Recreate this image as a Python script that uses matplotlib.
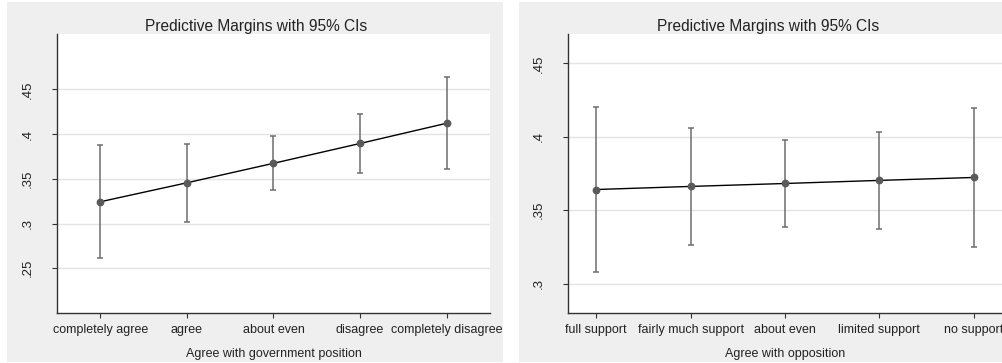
import numpy as np
import matplotlib.pyplot as plt
from matplotlib.patches import Rectangle

plt.rcParams['font.family'] = ['Liberation Sans', 'DejaVu Sans']

# Left panel: agree with government position
gov_labels = ['completely agree', 'agree', 'about even', 'disagree', 'completely disagree']
gov_margin = [0.3244, 0.3456, 0.3674, 0.3896, 0.4122]
gov_lo = [0.2619, 0.3019, 0.3370, 0.3563, 0.3608]
gov_hi = [0.3874, 0.3889, 0.3974, 0.4226, 0.4637]
gov_yticks = [0.25, 0.3, 0.35, 0.4, 0.45]
gov_yticklabels = ['.25', '.3', '.35', '.4', '.45']

# Right panel: agree with opposition
opp_labels = ['full support', 'fairly much support', 'about even', 'limited support', 'no support']
opp_margin = [0.3641, 0.3662, 0.3682, 0.3703, 0.3723]
opp_lo = [0.3080, 0.3266, 0.3386, 0.3374, 0.3252]
opp_hi = [0.4205, 0.4063, 0.3981, 0.4033, 0.4194]
opp_yticks = [0.3, 0.35, 0.4, 0.45]
opp_yticklabels = ['.3', '.35', '.4', '.45']

W, H = 1003, 363
fig = plt.figure(figsize=(W / 100, H / 100), dpi=100)
fig.patch.set_facecolor('white')

BG = '#efefef'


def px_rect(x0, y0, x1, y1):
    # pixel box (top-left origin) -> figure fraction rect
    return [x0 / W, 1 - y1 / H, (x1 - x0) / W, (y1 - y0) / H]


def panel(bg_box, ax_box, labels, m, lo, hi, yticks, yticklabels, ylim, xlim, xlabel, title_x):
    x0, y0, x1, y1 = bg_box
    fig.patches.append(Rectangle((x0 / W, 1 - y1 / H), (x1 - x0) / W, (y1 - y0) / H,
                                 transform=fig.transFigure, facecolor=BG, edgecolor='none', zorder=-5))
    ax = fig.add_axes(px_rect(*ax_box), zorder=2)
    ax.set_facecolor('white')
    x = np.arange(1, len(labels) + 1)
    m = np.array(m)
    yerr = [m - np.array(lo), np.array(hi) - m]
    ax.errorbar(x, m, yerr=yerr, fmt='none', ecolor='#6e6e6e', elinewidth=1.1,
                capsize=1.9, capthick=1.1, zorder=2)
    ax.plot(x, m, color='black', lw=1.0, zorder=3)
    ax.plot(x, m, 'o', color='#5a5a5a', markersize=4.6, zorder=4)
    ax.set_xlim(*xlim)
    ax.set_ylim(*ylim)
    ax.set_xticks(x)
    ax.set_xticklabels(labels, fontsize=9)
    ax.set_yticks(yticks)
    ax.set_yticklabels(yticklabels, fontsize=9.5, rotation=90, va='center')
    ax.grid(axis='y', color='#e4e4e4', lw=1.0)
    ax.set_axisbelow(True)
    for s in ['top', 'right']:
        ax.spines[s].set_visible(False)
    for s in ['left', 'bottom']:
        ax.spines[s].set_color('#333333')
        ax.spines[s].set_linewidth(1.0)
    ax.tick_params(axis='both', length=3.5, width=0.8, color='#333333', labelcolor='#222222')
    ax.tick_params(axis='y', pad=13)
    ax.tick_params(axis='x', pad=4.5)
    ax.set_xlabel(xlabel, fontsize=9, color='#222222', labelpad=8.5)
    fig.text(title_x / W, 1 - 26 / H, 'Predictive Margins with 95% CIs', fontsize=11.2,
             ha='center', va='center', color='#222222')
    return ax


panel((7, 2, 503, 362), (57, 34, 490, 313), gov_labels, gov_margin, gov_lo, gov_hi,
      gov_yticks, gov_yticklabels, (0.2, 0.512), (0.5, 5.5),
      'Agree with government position', 256)
panel((519, 2, 1003, 362), (568, 34, 1002, 313), opp_labels, opp_margin, opp_lo, opp_hi,
      opp_yticks, opp_yticklabels, (0.28, 0.47), (0.7, 5.3),
      'Agree with opposition', 768)

fig.savefig('out.png', dpi=100)
